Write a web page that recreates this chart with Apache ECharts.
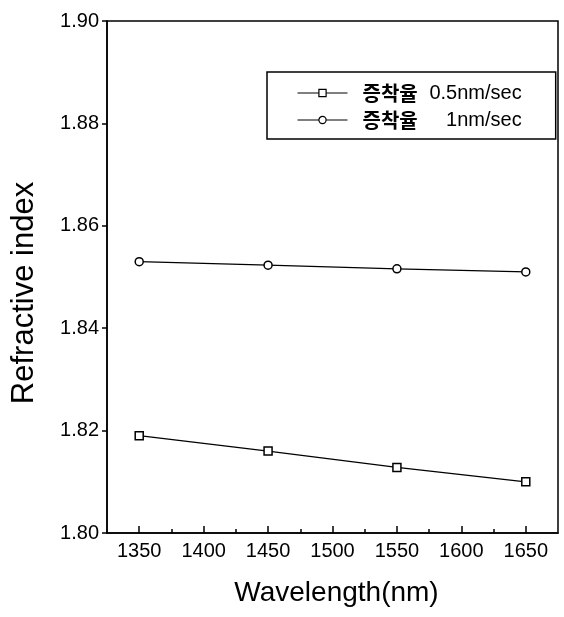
<!DOCTYPE html>
<html>
<head>
<meta charset="utf-8">
<script src="https://cdn.jsdelivr.net/npm/echarts@6/dist/echarts.min.js"></script>
<style>
  html, body { margin: 0; padding: 0; background: #fff; }
  #chart { width: 564px; height: 617px; }
</style>
</head>
<body>
<div id="chart"></div>
<script>
// Wavelength (nm) at which the refractive index was measured
const wavelengths = [1350, 1450, 1550, 1650];

// Refractive index for each deposition rate
const rateSlowName = '증착율 0.5nm/sec';
const rateSlowIndex = [1.8190, 1.8160, 1.8128, 1.8100];
const rateFastName = '증착율 1nm/sec';
const rateFastIndex = [1.8530, 1.8523, 1.8516, 1.8510];

// Axis ranges and tick positions
const xRange = [1325, 1675];
const xMajorTicks = [1350, 1400, 1450, 1500, 1550, 1600, 1650];
const xMinorTicks = [1375, 1425, 1475, 1525, 1575, 1625];
const yRange = [1.80, 1.90];
const yStep = 0.02;

const latin = "'Liberation Sans', Arial, sans-serif";
const korean = "'Noto Sans CJK KR', sans-serif";

const pairs = (xs, ys) => xs.map((x, i) => [x, ys[i]]);

const chart = echarts.init(document.getElementById('chart'), null, { renderer: 'canvas' });

chart.setOption({
  animation: false,
  backgroundColor: '#fff',
  grid: {
    left: 107, right: 6, top: 21, bottom: 84,
    show: true, borderColor: '#000', borderWidth: 1.5, backgroundColor: 'transparent'
  },
  legend: {
    left: 267, top: 72,
    orient: 'vertical',
    padding: [11, 34, 9, 30],
    itemGap: 7,
    itemWidth: 50,
    itemHeight: 9,
    borderColor: '#000',
    borderWidth: 1.5,
    lineStyle: { width: 1 },
    itemStyle: { borderWidth: 1.2 },
    data: [rateSlowName, rateFastName],
    formatter: name => {
      const parts = name.split(' ');
      return '{k|' + parts[0] + '}{v|' + parts[1] + '}';
    },
    textStyle: {
      color: '#000',
      rich: {
        k: { fontFamily: korean, fontWeight: 'bold', fontSize: 20, lineHeight: 22, color: '#000', padding: [0, 0, 0, 10] },
        v: { fontFamily: latin, fontSize: 20, lineHeight: 22, color: '#000', width: 104, align: 'right' }
      }
    }
  },
  xAxis: [{
    type: 'value',
    min: xRange[0], max: xRange[1],
    name: 'Wavelength(nm)',
    nameLocation: 'middle',
    nameGap: 46,
    nameTextStyle: { fontFamily: latin, fontSize: 28, color: '#000', padding: [0, 0, 0, 8] },
    axisLine: { show: true, onZero: false, lineStyle: { color: '#000', width: 1.5 } },
    axisTick: { show: true, inside: true, length: 7, customValues: xMajorTicks, lineStyle: { color: '#000', width: 1.5 } },
    axisLabel: {
      customValues: xMajorTicks, margin: 8, fontFamily: latin, fontSize: 20, color: '#000',
      formatter: v => String(v)
    },
    splitLine: { show: false }
  }, {
    type: 'value',
    position: 'bottom',
    min: xRange[0], max: xRange[1],
    axisLine: { show: false },
    axisTick: { show: true, inside: true, length: 4, customValues: xMinorTicks, lineStyle: { color: '#000', width: 1.5 } },
    axisLabel: { show: false, customValues: xMinorTicks },
    splitLine: { show: false }
  }],
  yAxis: {
    type: 'value',
    min: yRange[0], max: yRange[1], interval: yStep,
    name: 'Refractive index',
    nameLocation: 'middle',
    nameGap: 67,
    nameTextStyle: { fontFamily: latin, fontSize: 31, color: '#000', padding: [0, 32, 0, 0] },
    axisLine: { show: true, lineStyle: { color: '#000', width: 1.5 } },
    axisTick: { show: true, inside: false, length: 5, lineStyle: { color: '#000', width: 1.5 } },
    axisLabel: {
      margin: 8, fontFamily: latin, fontSize: 20, color: '#000',
      formatter: v => v.toFixed(2)
    },
    splitLine: { show: false }
  },
  series: [{
    name: rateSlowName,
    type: 'line',
    xAxisIndex: 0,
    data: pairs(wavelengths, rateSlowIndex),
    symbol: 'rect',
    symbolSize: 8,
    itemStyle: { color: '#fff', borderColor: '#000', borderWidth: 1.5 },
    lineStyle: { color: '#000', width: 1.2 }
  }, {
    name: rateFastName,
    type: 'line',
    xAxisIndex: 0,
    data: pairs(wavelengths, rateFastIndex),
    symbol: 'circle',
    symbolSize: 8,
    itemStyle: { color: '#fff', borderColor: '#000', borderWidth: 1.5 },
    lineStyle: { color: '#000', width: 1.2 }
  }]
});
</script>
</body>
</html>
